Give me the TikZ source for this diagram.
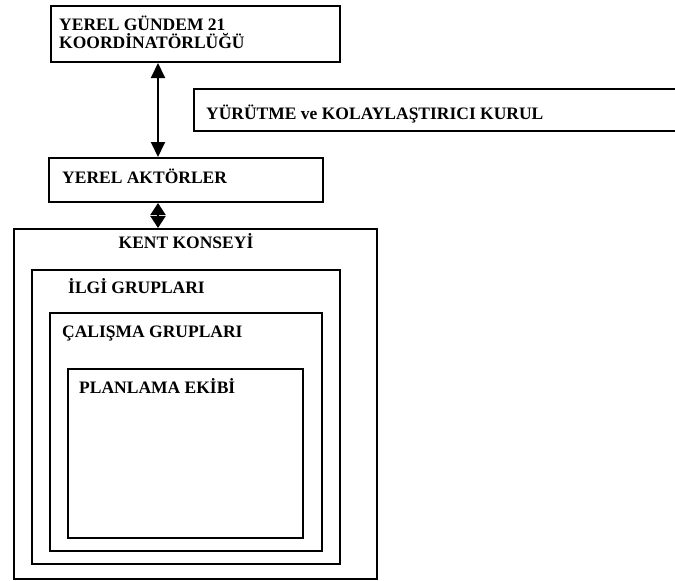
\documentclass[tikz,border=0pt]{standalone}
\usepackage{fontspec}
\setmainfont{Liberation Serif}
\usetikzlibrary{arrows.meta}
\tikzset{
  box/.style={draw, line width=2pt, inner sep=0pt, anchor=north west},
  lbl/.style={inner sep=0pt, anchor=base west, font=\fontsize{17.5}{18}\selectfont\bfseries},
  tipa/.tip={Triangle[length=15pt,width=14pt]},
  tipb/.tip={Triangle[length=12pt,width=15pt]}
}
\begin{document}
\begin{tikzpicture}[x=1pt,y=-1pt]
\useasboundingbox (0,0) rectangle (675,581);
% boxes
\node[box, minimum width=289pt, minimum height=56pt] (g21) at (50,5) {};
\begin{scope}
\clip (0,0) rectangle (675,581);
\node[box, minimum width=500pt, minimum height=42pt] (yk) at (193,88) {};
\end{scope}
\node[box, minimum width=274pt, minimum height=44pt] (akt) at (48,157) {};
\node[box, minimum width=363pt, minimum height=350pt] (kent) at (13,228) {};
\node[box, minimum width=308pt, minimum height=294pt] (ilgi) at (31,269) {};
\node[box, minimum width=272pt, minimum height=238pt] (cal) at (49,312) {};
\node[box, minimum width=235pt, minimum height=169pt] (plan) at (67,368) {};
% texts
\node[lbl] (t1) at (59,30) {YEREL GÜNDEM 21};
\node[lbl] (t2) at (59,48) {KOORDİNATÖRLÜĞÜ};
\node[lbl] (t3) at (206,119) {YÜRÜTME ve KOLAYLAŞTIRICI KURUL};
\node[lbl] (t4) at (62,183) {YEREL AKTÖRLER};
\node[lbl, anchor=base] (t5) at (186,248) {KENT KONSEYİ};
\node[lbl] (t6) at (68,293) {İLGİ GRUPLARI};
\node[lbl] (t7) at (62,337) {ÇALIŞMA GRUPLARI};
\node[lbl] (t8) at (79,393) {PLANLAMA EKİBİ};
% connectors
\coordinate (ax) at (158,0);
\draw[line width=2pt, tipa-tipa] (g21.south -| ax) -- (akt.north -| ax);
\draw[line width=2pt, tipb-tipb] (akt.south -| ax) -- (kent.north -| ax);
\end{tikzpicture}
\end{document}
